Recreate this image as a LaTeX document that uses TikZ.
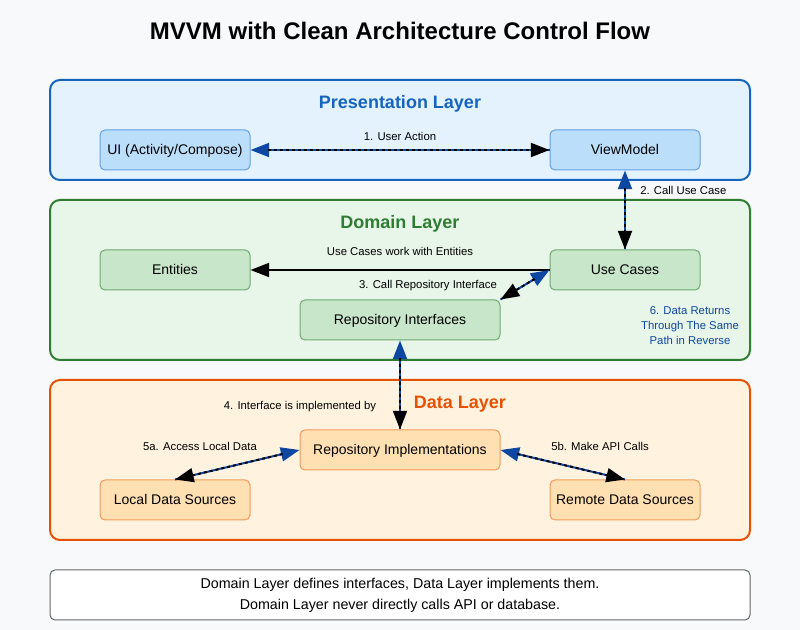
\documentclass[tikz,border=0pt]{standalone}
\usepackage{fontspec}
\setmainfont{Liberation Sans}
\usetikzlibrary{arrows.meta}
\definecolor{bg}{HTML}{F8F9FA}
\definecolor{presS}{HTML}{1565C0}
\definecolor{presF}{HTML}{E3F2FD}
\definecolor{presBF}{HTML}{BBDEFB}
\definecolor{presBS}{HTML}{64A2E6}
\definecolor{domS}{HTML}{2E7D32}
\definecolor{domF}{HTML}{E8F5E9}
\definecolor{domBF}{HTML}{C8E6C9}
\definecolor{domBS}{HTML}{6DAA70}
\definecolor{datS}{HTML}{E65100}
\definecolor{datF}{HTML}{FFF3E0}
\definecolor{datBF}{HTML}{FFE0B2}
\definecolor{datBS}{HTML}{F29A58}
\definecolor{arrblue}{HTML}{0D47A1}
\definecolor{notegray}{HTML}{666666}
\begin{document}
\begin{tikzpicture}[x=0.75pt,y=-0.75pt,
  layerbox/.style={line width=1.5pt, rounded corners=7.5pt, minimum width=525pt, inner sep=0pt},
  box/.style={line width=0.75pt, rounded corners=3.75pt, minimum width=112.5pt, minimum height=30pt, inner sep=0pt, text height=8.5pt, text depth=1pt, font=\fontsize{10.5}{12}\selectfont},
  widebox/.style={box, minimum width=150pt},
  pbox/.style={box, draw=presBS, fill=presBF},
  dbox/.style={box, draw=domBS, fill=domBF},
  abox/.style={box, draw=datBS, fill=datBF},
  layertitle/.style={font=\fontsize{13.5}{16}\selectfont\bfseries, inner sep=0pt},
  lbl/.style={font=\fontsize{8.5}{10}\selectfont, inner sep=0pt},
  bluearr/.style={draw=arrblue, line width=1.5pt, -{Triangle[length=14pt,width=10.5pt]}},
  dasharr/.style={draw=black, line width=1.5pt, dash pattern=on 2.25pt off 2.25pt, shorten <=13pt, -{Triangle[length=14pt,width=10.5pt]}},
  solidarr/.style={draw=black, line width=1.5pt, -{Triangle[length=14pt,width=10.5pt]}},
]
\fill[bg] (0,0) rectangle (800,630);
\useasboundingbox (0,0) rectangle (800,630);

\node[font=\fontsize{18}{21}\selectfont\bfseries, inner sep=0pt] (title) at (400,31) {MVVM with Clean Architecture Control Flow};

% layers
\node[layerbox, draw=presS, fill=presF, minimum height=75pt] (pres) at (400,130) {};
\node[layerbox, draw=domS, fill=domF, minimum height=120pt] (dom) at (400,280) {};
\node[layerbox, draw=datS, fill=datF, minimum height=120pt] (dat) at (400,460) {};

\node[layertitle, text=presS] (prest) at (400,104) {Presentation Layer};
\node[layertitle, text=domS] (domt) at (400,224) {Domain Layer};
\node[layertitle, text=datS] (datt) at (460,404) {Data Layer};

% boxes
\node[pbox] (ui) at (175,150) {UI (Activity/Compose)};
\node[pbox] (vm) at (625,150) {ViewModel};
\node[dbox] (ent) at (175,270) {Entities};
\node[dbox] (uc) at (625,270) {Use Cases};
\node[dbox, widebox] (ri) at (400,320) {Repository Interfaces};
\node[abox, widebox] (rimpl) at (400,450) {Repository Implementations};
\node[abox] (local) at (175,500) {Local Data Sources};
\node[abox] (remote) at (625,500) {Remote Data Sources};

% connectors
\draw[bluearr] (vm.west) -- (ui.east);
\draw[dasharr] (ui.east) -- (vm.west);

\draw[bluearr] (uc.north) -- (vm.south);
\draw[dasharr] (vm.south) -- (uc.north);

\draw[solidarr] (uc.west) -- (ent.east);

\draw[bluearr] (ri.north east) -- (uc.west);
\draw[dasharr] (uc.west) -- (ri.north east);

\draw[bluearr] (rimpl.north) -- (ri.south);
\draw[dasharr] (ri.south) -- (rimpl.north);

\draw[bluearr] (local.north) -- (rimpl.west);
\draw[dasharr] (rimpl.west) -- (local.north);

\draw[bluearr] (remote.north) -- (rimpl.east);
\draw[dasharr] (rimpl.east) -- (remote.north);

% labels
\node[lbl] (l1) at (400,136) {1. User Action};
\node[lbl, anchor=west] (l2) at (640,190.5) {2. Call Use Case};
\node[lbl] (lent) at (400,251) {Use Cases work with Entities};
\node[lbl] (l3) at (428,286) {3. Call Repository Interface};
\node[lbl, text=arrblue, align=center, font=\fontsize{8.5}{11.25}\selectfont] (l6) at (690,326) {6. Data Returns\\Through The Same\\Path in Reverse};
\node[lbl] (l4) at (300,407) {4. Interface is implemented by};
\node[lbl] (l5a) at (200,446) {5a. Access Local Data};
\node[lbl] (l5b) at (600,446) {5b. Make API Calls};

% note
\node[draw=notegray, fill=white, line width=0.75pt, rounded corners=3.75pt, minimum width=525pt, minimum height=37.5pt, inner sep=0pt] (note) at (400,595) {};
\node[align=center, font=\fontsize{10.7}{15.75}\selectfont, inner sep=0pt] (notet) at (400,595) {Domain Layer defines interfaces, Data Layer implements them.\\Domain Layer never directly calls API or database.};
\end{tikzpicture}
\end{document}
